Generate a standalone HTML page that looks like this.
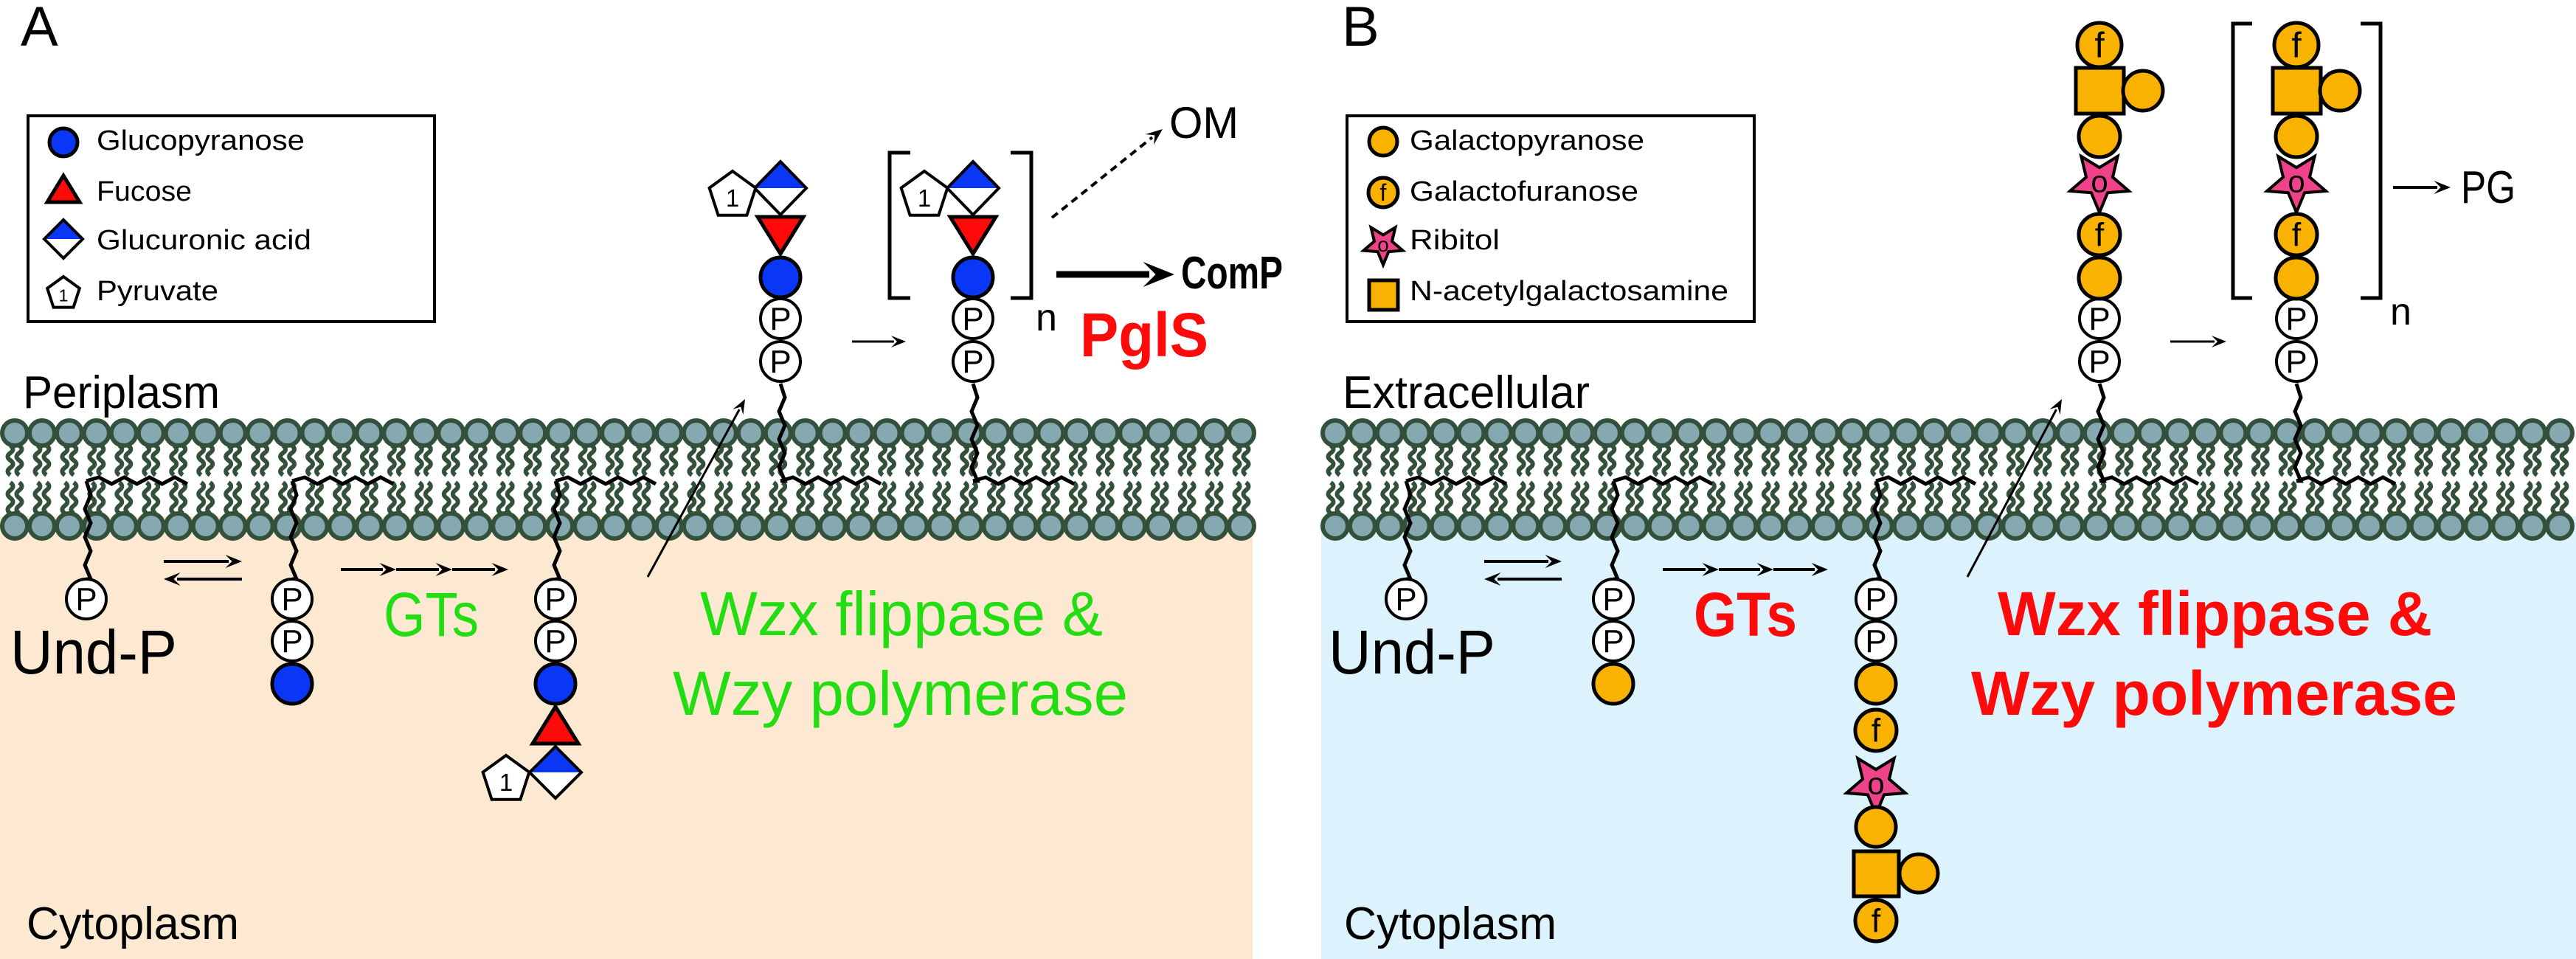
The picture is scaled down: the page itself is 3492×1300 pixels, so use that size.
<!DOCTYPE html>
<html><head><meta charset="utf-8"><style>
html,body{margin:0;padding:0;background:#fff}
svg{display:block}
text{font-family:"Liberation Sans",sans-serif}
</style></head><body>
<svg id="s" width="3492" height="1300" viewBox="0 0 3492 1300" xmlns="http://www.w3.org/2000/svg"></svg>
<script>
const S=document.getElementById('s');let o='';
const BL='#0a36f5',RD='#ff0a0a',OR='#f9b200',PK='#f0428a',GR='#22dd11';
o+=`<rect x="0" y="700" width="1698" height="600" fill="#fde9d2"/>`;
o+=`<rect x="1791" y="700" width="1701" height="600" fill="#dcf2fc"/>`;
function T(x,y,s,txt,opt={}){o+=`<text x="${x}" y="${y}" font-size="${s}" fill="${opt.fill||'#000'}" ${opt.w?`font-weight="bold"`:''} ${opt.len?`textLength="${opt.len}" lengthAdjust="spacingAndGlyphs"`:''} ${opt.anchor?`text-anchor="${opt.anchor}"`:''}>${txt}</text>`;}
function membrane(x0,x1){
 let n=Math.round((x1-x0)/36.9);let dx=(x1-x0)/n;
 for(let i=0;i<=n;i++){let x=x0+i*dx;
  for(const [a,b] of [[604,644],[654,696]]){
   for(const d of [-6,6]){let p=`M${x+d},${a}`;let h=(b-a)/4;
    for(let k=0;k<4;k++){p+=` Q${x+d+(k%2?-7:7)},${a+h*k+h/2} ${x+d},${a+h*(k+1)}`;}
    o+=`<path d="${p}" stroke="#33503a" stroke-width="6" fill="none"/>`;}
  }
 }
 for(let i=0;i<=n;i++){let x=x0+i*dx;
  o+=`<circle cx="${x}" cy="587" r="17" fill="#86a8b0" stroke="#33503a" stroke-width="6"/>`;
  o+=`<circle cx="${x}" cy="713" r="17" fill="#86a8b0" stroke="#33503a" stroke-width="6"/>`;}
}
membrane(20,1683);membrane(1810,3470);
function zzV(x,y0,y1){let p=`M${x},${y0}`;let n=Math.round(Math.abs(y1-y0)/18);let h=(y1-y0)/n;for(let k=1;k<=n;k++)p+=` L${x+(k%2?6:-2)},${y0+h*k}`;p+=` L${x},${y1}`;o+=`<path d="${p}" stroke="#000" stroke-width="5" fill="none"/>`;}
function zzH(x0,x1,y){let p=`M${x0},${y}`;let n=Math.round((x1-x0)/17);let w=(x1-x0)/n;for(let k=1;k<=n;k++)p+=` L${x0+w*k},${y+(k%2?-5:4)}`;o+=`<path d="${p}" stroke="#000" stroke-width="5" fill="none"/>`;}
function chain(x,yP,xe,up){
 if(up){zzV(x,yP,652);}else{zzV(x,652,yP);}zzH(x,xe,652);}
function P(x,y){o+=`<circle cx="${x}" cy="${y}" r="27" fill="#fff" stroke="#000" stroke-width="4"/>`;T(x,y+15,44,'P',{anchor:'middle'});}
function C(x,y,r,f){o+=`<circle cx="${x}" cy="${y}" r="${r}" fill="${f}" stroke="#000" stroke-width="5"/>`;}
function Fc(x,y,r){C(x,y,r,OR);T(x,y+r*0.55,r*1.6,'f',{anchor:'middle'});}
function tri(x,y0,y1,hw,down){let p=down?`M${x-hw},${y0} L${x+hw},${y0} L${x},${y1}Z`:`M${x},${y0} L${x+hw},${y1} L${x-hw},${y1}Z`;o+=`<path d="${p}" fill="${RD}" stroke="#000" stroke-width="5" stroke-linejoin="miter"/>`;}
function dia(x,y,hw,hh){o+=`<path d="M${x},${y-hh} L${x+hw},${y} L${x-hw},${y}Z" fill="${BL}"/><path d="M${x-hw},${y} L${x+hw},${y} L${x},${y+hh}Z" fill="#fff"/><path d="M${x},${y-hh} L${x+hw},${y} L${x},${y+hh} L${x-hw},${y}Z" fill="none" stroke="#000" stroke-width="4"/>`;}
function pent(x,y,r){let p='';for(let k=0;k<5;k++){let a=-Math.PI/2+k*2*Math.PI/5;p+=(k?'L':'M')+(x+r*Math.cos(a))+','+(y+r*Math.sin(a));}o+=`<path d="${p}Z" fill="#fff" stroke="#000" stroke-width="4"/>`;T(x,y+r*0.45,r*1.0,'1',{anchor:'middle'});}
function star(x,y,R,lab){let p='';for(let k=0;k<10;k++){let a=Math.PI/2+k*Math.PI/5;let r=k%2?R*0.45:R;p+=(k?'L':'M')+(x+r*Math.cos(a))+','+(y+r*Math.sin(a));}o+=`<path d="${p}Z" fill="${PK}" stroke="#000" stroke-width="4"/>`;T(x,y+R*0.35,R*1.0,'o',{anchor:'middle'});}
function sq(x0,y0,x1,y1){o+=`<rect x="${x0}" y="${y0}" width="${x1-x0}" height="${y1-y0}" fill="${OR}" stroke="#000" stroke-width="5"/>`;}
function arrow(x0,y0,x1,y1,w=4,hs=16,dash){let a=Math.atan2(y1-y0,x1-x0);let bx=x1-hs*Math.cos(a),by=y1-hs*Math.sin(a);
 o+=`<line x1="${x0}" y1="${y0}" x2="${bx}" y2="${by}" stroke="#000" stroke-width="${w}" ${dash?`stroke-dasharray="${dash}"`:''}/>`;
 let px=-Math.sin(a)*hs*0.5,py=Math.cos(a)*hs*0.5;let ix=x1-hs*0.75*Math.cos(a),iy=y1-hs*0.75*Math.sin(a);
 o+=`<path d="M${x1},${y1} L${bx-hs*0.25*Math.cos(a)+px},${by-hs*0.25*Math.sin(a)+py} L${ix},${iy} L${bx-hs*0.25*Math.cos(a)-px},${by-hs*0.25*Math.sin(a)-py}Z" fill="#000"/>`;}
function brk(x,y0,y1,dir){o+=`<path d="M${x+dir*28},${y0} L${x},${y0} L${x},${y1} L${x+dir*28},${y1}" fill="none" stroke="#000" stroke-width="5"/>`;}

/* ===== Panel A ===== */
T(28,62,76,'A');
o+=`<rect x="38" y="157" width="551" height="279" fill="#fff" stroke="#000" stroke-width="4"/>`;
C(86,193,19,BL);T(131,203,38,'Glucopyranose',{len:282});
tri(86,238,274,22,false);T(131,272,38,'Fucose',{len:129});
dia(86,324,26,26);T(131,338,38,'Glucuronic acid',{len:291});
pent(86,398,23);T(131,407,38,'Pyruvate',{len:165});
T(31,553,62,'Periplasm',{len:267});
T(36,1273,62,'Cytoplasm',{len:288});
chain(117,785,254,false);P(117,812);
chain(396,785,533,false);P(396,812);P(396,869);C(396,927,27,BL);
chain(753,785,889,false);P(753,812);P(753,869);C(753,927,27,BL);tri(753,958,1008,31,false);dia(753,1047,35,35);pent(686,1057,33);
T(14,913,84,'Und-P',{len:226});
arrow(222,761,328,761,4,18);arrow(328,785,222,785,4,18);
arrow(462,772,537,772,4,18);arrow(537,772,613,772,4,18);arrow(613,772,689,772,4,18);
T(520,862,84,'GTs',{fill:GR,len:129});
T(949,861,84,'Wzx flippase &amp;',{fill:GR,len:546});
T(912,969,84,'Wzy polymerase',{fill:GR,len:617});
arrow(878,782,1010,541,3,16);
chain(1058,520,1194,true);P(1058,432);P(1058,490);C(1058,376,27,BL);tri(1058,294,344,31,true);dia(1058,255,35,36);pent(993,265,33);
chain(1319,520,1456,true);P(1319,432);P(1319,490);C(1319,376,27,BL);tri(1319,294,344,31,true);dia(1319,255,35,36);pent(1253,265,33);
brk(1206,207,404,1);brk(1398,207,404,-1);
T(1404,448,52,'n');
arrow(1155,463,1228,463,3,16);
arrow(1432,372,1592,372,9,34);
T(1601,391,62,'ComP',{w:1,len:138});
T(1464,483,84,'PglS',{fill:RD,w:1,len:174});
arrow(1426,295,1576,175,4,18,'10,7');
T(1585,187,60,'OM',{len:94});

/* ===== Panel B ===== */
T(1819,62,76,'B');
o+=`<rect x="1826" y="157" width="552" height="279" fill="#fff" stroke="#000" stroke-width="4"/>`;
C(1875,192,19,OR);T(1911,203,38,'Galactopyranose',{len:318});
Fc(1875,261,20);T(1911,272,38,'Galactofuranose',{len:310});
star(1875,331,28);T(1911,338,38,'Ribitol',{len:122});
sq(1856,380,1895,420);T(1911,407,38,'N-acetylgalactosamine',{len:432});
T(1820,553,62,'Extracellular',{len:335});
T(1822,1273,62,'Cytoplasm',{len:288});
chain(1906,785,2042,false);P(1906,812);
chain(2187,785,2321,false);P(2187,812);P(2187,869);C(2187,927,27,OR);
chain(2543,785,2678,false);P(2543,812);P(2543,869);C(2543,927,27,OR);Fc(2543,990,28);star(2543,1062,42);C(2543,1121,27,OR);sq(2513,1154,2574,1215);C(2601,1184,26,OR);Fc(2543,1248,28);
T(1801,913,84,'Und-P',{len:226});
arrow(2012,761,2117,761,4,18);arrow(2117,785,2012,785,4,18);
arrow(2254,772,2330,772,4,18);arrow(2330,772,2404,772,4,18);arrow(2404,772,2478,772,4,18);
T(2296,862,84,'GTs',{fill:RD,w:1,len:140});
T(2708,861,84,'Wzx flippase &amp;',{fill:RD,w:1,len:589});
T(2672,969,84,'Wzy polymerase',{fill:RD,w:1,len:659});
arrow(2667,782,2795,541,3,16);
function topB(x){chain(x,520,x+134,true);P(x,432);P(x,490);C(x,377,28,OR);Fc(x,318,28);star(x,246,42);C(x,185,28,OR);sq(x-32,92,x+33,154);C(x+59,123,27,OR);Fc(x,61,30);}
topB(2846);topB(3113);
o+=`<path d="M3053,32 L3027,32 L3027,404 L3053,404" fill="none" stroke="#000" stroke-width="5"/>`;
o+=`<path d="M3200,32 L3227,32 L3227,404 L3200,404" fill="none" stroke="#000" stroke-width="5"/>`;
T(3240,440,52,'n');
arrow(2942,463,3018,463,3,16);
arrow(3244,254,3322,254,4,18);
T(3336,275,62,'PG',{len:74});
S.innerHTML=o;
</script>
</body></html>
